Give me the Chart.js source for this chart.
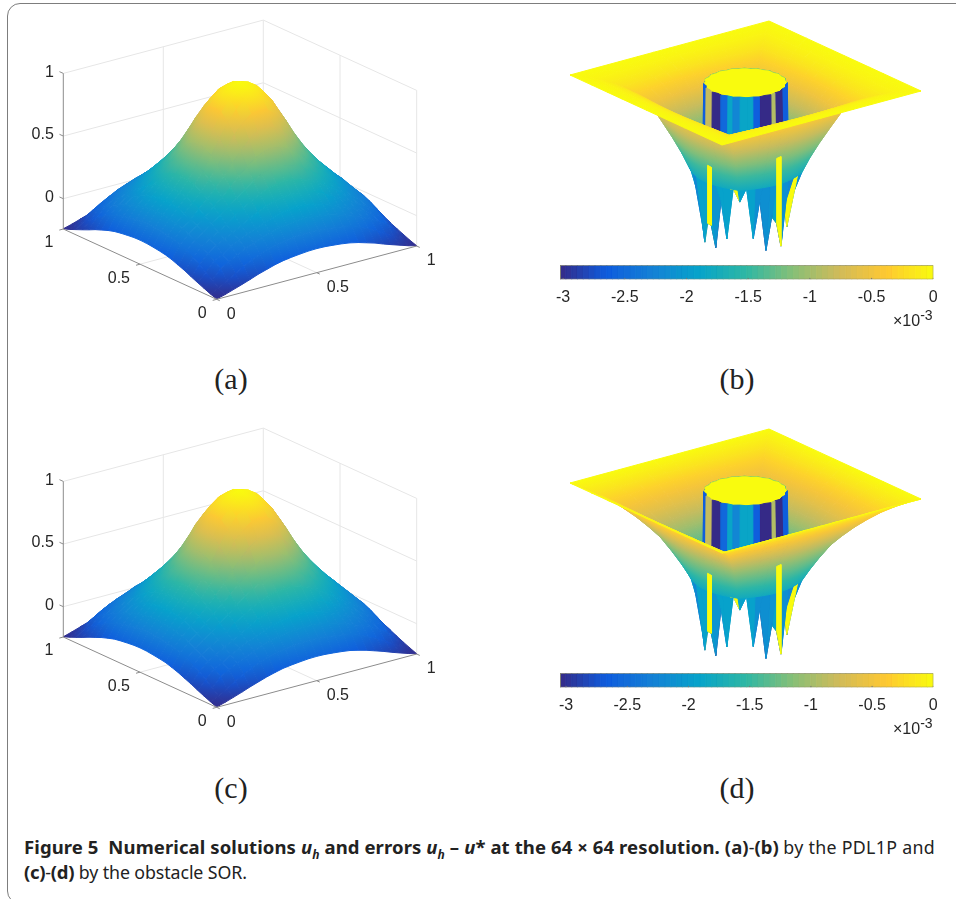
<!DOCTYPE html>
<html>
<head>
<meta charset="utf-8">
<title>Figure 5</title>
<script src="https://cdn.jsdelivr.net/npm/chart.js@4"></script>
<style>
html, body { margin: 0; padding: 0; background: #fff; }
#page { position: relative; width: 956px; height: 899px; overflow: hidden; }
#frame { position: absolute; left: 7px; top: 3px; width: 1000px; height: 899px; border: 1.5px solid #7d7d7d; border-radius: 13px; }
canvas { position: absolute; }
.sub { position: absolute; font: 30px "Liberation Serif", serif; color: #222; transform: translateX(-50%); }
.expo { position: absolute; font: 16px "Liberation Sans", sans-serif; color: #262626; white-space: nowrap; }
.expo sup { font-size: 14px; line-height: 0; }
.cap { position: absolute; left: 24px; font: 17.8px "Noto Sans", sans-serif; color: #222; white-space: nowrap; }
.cap b { font-size: 18.5px; }
.cap i { font-style: italic; }
.cap sub { font-size: 12px; line-height: 0; }
</style>
</head>
<body>
<div id="page">
  <div id="frame"></div>
  <canvas id="panelA" width="478" height="340" style="left:0;top:0"></canvas>
  <canvas id="panelB" width="478" height="262" style="left:478px;top:0"></canvas>
  <canvas id="barB" width="416" height="70" style="left:540px;top:255px"></canvas>
  <canvas id="panelC" width="478" height="340" style="left:0;top:408px"></canvas>
  <canvas id="panelD" width="478" height="262" style="left:478px;top:408px"></canvas>
  <canvas id="barD" width="416" height="70" style="left:540px;top:663px"></canvas>
  <div class="sub" style="left:231px;top:362px">(a)</div>
  <div class="sub" style="left:737px;top:362px">(b)</div>
  <div class="sub" style="left:231px;top:771px">(c)</div>
  <div class="sub" style="left:737px;top:771px">(d)</div>
  <div class="expo" style="left:893px;top:312px">&times;10<sup>-3</sup></div>
  <div class="expo" style="left:893px;top:720px">&times;10<sup>-3</sup></div>
  <div class="cap" style="top:834px"><b style="letter-spacing:.1px">Figure 5&nbsp; Numerical solutions <i>u<sub>h</sub></i> and errors <i>u<sub>h</sub></i> &ndash; <i>u</i>* at the 64 &times; 64 resolution. (a)</b>-<b>(b)</b> <span style="letter-spacing:.3px">by the PDL1P and</span></div>
  <div class="cap" style="top:859px;letter-spacing:-.1px"><b style="letter-spacing:-.3px">(c)</b>-<b style="letter-spacing:-.3px">(d)</b> by the obstacle SOR.</div>
</div>
<script>
// parula colormap
const parula = ['#352a87', '#0f5cdd', '#1481d6', '#06a4ca', '#2eb7a4', '#87bf77', '#d1bb59', '#fec832', '#f9fb0e'];

const axisTicks = [0, 0.5, 1];
const heightTicks = [0, 0.5, 1];
const errorTicks = [-3, -2.5, -2, -1.5, -1, -0.5, 0];

// heights of the solution, by distance from the centre in 1/24 steps
// row a, column b (a >= b), the surface is the same in all four quadrants
const surfaceA = [
  [1.00],
  [.98, .96],
  [.935, .915, .86],
  [.845, .83, .775, .70],
  [.73, .715, .665, .595, .515],
  [.595, .58, .545, .49, .43, .365],
  [.47, .46, .44, .40, .355, .305, .25],
  [.37, .365, .35, .32, .285, .245, .20, .15],
  [.29, .285, .27, .25, .22, .185, .145, .11, .075],
  [.215, .21, .20, .18, .155, .13, .10, .07, .04, -.01],
  [.145, .14, .13, .12, .10, .08, .055, .03, -.005, -.04, -.08],
  [.06, .055, .05, .04, .03, .015, -.01, -.04, -.075, -.115, -.15, -.19],
  [-.05, -.052, -.058, -.065, -.075, -.09, -.11, -.13, -.155, -.178, -.20, -.222, -.24]
];
const surfaceC = [
  [1.00],
  [.98, .96],
  [.935, .915, .865],
  [.85, .83, .78, .71],
  [.735, .72, .67, .60, .52],
  [.60, .585, .55, .495, .435, .37],
  [.475, .465, .445, .405, .36, .31, .255],
  [.375, .37, .355, .325, .29, .25, .205, .155],
  [.29, .285, .275, .25, .225, .19, .15, .11, .075],
  [.215, .21, .20, .185, .16, .13, .10, .07, .035, -.01],
  [.14, .135, .13, .115, .10, .08, .05, .025, -.005, -.04, -.08],
  [.06, .055, .05, .04, .03, .015, -.01, -.04, -.07, -.11, -.15, -.19],
  [-.048, -.05, -.056, -.063, -.072, -.088, -.106, -.128, -.15, -.175, -.198, -.22, -.24]
];

// error surface: rings from the square boundary in to the obstacle
const ringS = [0, .1, .2, .3, .4, .5, .6, .68, .77, .84, .9];
const ringZB = [0, -.02, -.05, -.1, -.18, -.3, -.5, -.8, -1.15, -1.45, -1.75];
const ringZD = [0, -.08, -.18, -.3, -.45, -.62, -.82, -1.0, -1.28, -1.52, -1.75];

// values around the obstacle rim, every 9 degrees
const rimZ = [-1.9, -1.9, -1.9, -1.9, -1.9, -1.9, -1.9, -1.9, -1.9, -1.9, -1.9, -1.9, -1.9, -1.9, -1.9, -2.1,
  -2.5, -2.85, -3.08, -2.66, -2.66, -3.07, -2.1, -2.84, -1.82, -2.08, -1.8, -2.81, -2.06, -3.08,
  -2.44, -2.6, -3.09, -2.32, -2.79, -2.4, -1.9, -1.9, -1.9, -1.9];
const rimShade = [-1.9, -1.9, -1.9, -1.9, -1.9, -1.9, -1.9, -1.9, -1.9, -1.9, -1.9, -1.9, -1.9, -1.9, -1.9, -1.9,
  -2.0, -2.2, -1.9, -1.9, -1.9, -2.05, -1.9, -1.9, 0, -1.9, -1.9, -2.1, -2.1, -2.05,
  -1.9, -2.1, -2.2, 0, -2.1, -2.0, -1.9, -1.9, -1.9, -1.9];
const columnShade = [-1.8, -1.8, -1.8, -1.8, -1.8, -1.8, -1.8, -1.8, -1.8, -1.8, -1.8, -1.8, -1.8, -1.8, -1.8, -2.6,
  -2.6, -2.6, -0.8, -0.8, -3, -3, -2.5, -1.85, -2.2, -1.85, -1.85, -2.6, -3, -3,
  -0.9, -3, -3, -2.6, -2.6, -2.6, -1.8, -1.8, -1.8, -1.8];
const discRadius = [.167, .161, .167, .162, .167, .161, .167, .162, .167, .161, .167, .162, .167, .161, .167, .162, .167, .161, .167, .162,
  .167, .161, .167, .162, .167, .161, .167, .162, .167, .161, .167, .162, .167, .161, .167, .162, .167, .161, .167, .162];
// long yellow faces hanging at the rim
const streakIndex = [19, 31];
const streakTop = [-1.5, -1.3];

const leftView = { ox: 216.7, oy: 269, xx: 200, xy: -53.3, yx: -153.4, yy: -70.3, zs: 125.3, zmin: -.242, zmax: 1 };
const rightView = { ox: 722, oy: 145, xx: 199, xy: -54, yx: -152, yy: -70, zs: 50 };
const rimRadius = 0.172;

function project(v, x, y, z) {
  return { x: v.ox + v.xx * x + v.yx * y, y: v.oy + v.xy * x + v.yy * y - v.zs * z };
}

function parulaAt(t) {
  t = Math.min(1, Math.max(0, t)) * (parula.length - 1);
  const i = Math.min(parula.length - 2, Math.floor(t));
  const f = t - i;
  const c = [1, 3, 5].map(p => {
    const a = parseInt(parula[i].substr(p, 2), 16);
    const b = parseInt(parula[i + 1].substr(p, 2), 16);
    return Math.round(a + (b - a) * f);
  });
  return `rgb(${c[0]},${c[1]},${c[2]})`;
}

// one filled quad, shaded along the plane that fits its four corners
function quad(pts, zs, range) {
  const tone = z => parulaAt((z - range[0]) / (range[1] - range[0]));
  const zlo = Math.min(...zs), zhi = Math.max(...zs);
  const paint = function (context) {
    const chart = context.chart;
    if (!chart.chartArea || zlo === zhi) return tone(zlo);
    const px = pts.map(p => chart.scales.x.getPixelForValue(p.x));
    const py = pts.map(p => chart.scales.y.getPixelForValue(p.y));
    const mean = a => (a[0] + a[1] + a[2] + a[3]) / 4;
    const cx = mean(px), cy = mean(py), cz = mean(zs);
    let sxx = 0, sxy = 0, syy = 0, sxz = 0, syz = 0;
    for (let i = 0; i < 4; i++) {
      const dx = px[i] - cx, dy = py[i] - cy, dz = zs[i] - cz;
      sxx += dx * dx; sxy += dx * dy; syy += dy * dy; sxz += dx * dz; syz += dy * dz;
    }
    const det = sxx * syy - sxy * sxy;
    if (Math.abs(det) < 1e-6) return tone(cz);
    const a = (sxz * syy - syz * sxy) / det;
    const b = (syz * sxx - sxz * sxy) / det;
    const len = a * a + b * b;
    if (len < 1e-12) return tone(cz);
    const g = chart.ctx.createLinearGradient(
      cx + a * (zlo - cz) / len, cy + b * (zlo - cz) / len,
      cx + a * (zhi - cz) / len, cy + b * (zhi - cz) / len);
    g.addColorStop(0, tone(zlo));
    g.addColorStop(1, tone(zhi));
    return g;
  };
  return {
    data: pts.concat([pts[0]]), showLine: true, fill: 'shape', pointRadius: 0, tension: 0,
    backgroundColor: paint, borderColor: paint, borderWidth: 1
  };
}

function polyline(pts, color, width) {
  return { data: pts, showLine: true, fill: false, pointRadius: 0, tension: 0, borderColor: color, borderWidth: width };
}

function baseOptions(xmin, xmax, ymax) {
  return {
    responsive: false,
    animation: false,
    events: [],
    layout: { padding: 0 },
    plugins: { legend: { display: false }, tooltip: { enabled: false } },
    scales: {
      x: { type: 'linear', display: false, min: xmin, max: xmax },
      y: { type: 'linear', display: false, min: 0, max: ymax, reverse: true }
    }
  };
}

// the 3d tick labels are drawn with the chart
const boxLabels = {
  id: 'boxLabels',
  afterDatasetsDraw(chart) {
    const { ctx, scales } = chart;
    const v = leftView;
    const put = (p, dx, dy, align, text) => {
      ctx.textAlign = align;
      ctx.fillText(text, scales.x.getPixelForValue(p.x) + dx, scales.y.getPixelForValue(p.y) + dy);
    };
    ctx.save();
    ctx.font = '16px "Liberation Sans", sans-serif';
    ctx.fillStyle = '#262626';
    ctx.textBaseline = 'middle';
    heightTicks.forEach(t => put(project(v, 0, 1, t), -9.5, -1, 'right', String(t)));
    axisTicks.forEach(t => put(project(v, t, 0, v.zmin), 10, 15, 'left', String(t)));
    axisTicks.forEach(t => put(project(v, 0, t, v.zmin), -10, 14, 'right', String(t)));
    ctx.restore();
  }
};

function solutionPanel(id, table) {
  const v = leftView, bottom = v.zmin, top = v.zmax;
  const wall = '#e6e6e6', axis = '#8c8c8c';
  const P = (x, y, z) => project(v, x, y, z);
  const sets = [];
  // box behind the surface
  heightTicks.forEach(z => sets.push(polyline([P(0, 1, z), P(1, 1, z), P(1, 0, z)], wall, 1)));
  [.5, 1].forEach(x => sets.push(polyline([P(x, 1, bottom), P(x, 1, top)], wall, 1)));
  [.5, 0].forEach(y => sets.push(polyline([P(1, y, bottom), P(1, y, top)], wall, 1)));
  sets.push(polyline([P(0, 1, bottom), P(1, 1, bottom), P(1, 0, bottom)], wall, 1));
  sets.push(polyline([P(.5, 0, bottom), P(.5, 1, bottom)], wall, 1));
  sets.push(polyline([P(0, .5, bottom), P(1, .5, bottom)], wall, 1));
  // surface, far corner first
  const zAt = (i, j) => {
    const a = Math.abs(12 - i), b = Math.abs(12 - j);
    return table[Math.max(a, b)][Math.min(a, b)];
  };
  for (let i = 23; i >= 0; i--) {
    for (let j = 23; j >= 0; j--) {
      const ids = [[i, j], [i + 1, j], [i + 1, j + 1], [i, j + 1]];
      const zs = ids.map(c => zAt(c[0], c[1]));
      const pts = ids.map((c, n) => P(c[0] / 24, c[1] / 24, zs[n]));
      sets.push(quad(pts, zs, [-.25, 1]));
    }
  }
  // axes in front
  sets.push(polyline([P(0, 1, bottom), P(0, 1, top)], axis, 1));
  sets.push(polyline([P(1, 0, bottom), P(0, 0, bottom), P(0, 1, bottom)], axis, 1));
  heightTicks.forEach(z => sets.push(polyline([P(0, 1, z), P(0, 1.025, z)], axis, 1)));
  axisTicks.forEach(t => {
    sets.push(polyline([P(t, 0, bottom), P(t, -.02, bottom)], axis, 1));
    sets.push(polyline([P(0, t, bottom), P(-.02, t, bottom)], axis, 1));
  });
  new Chart(document.getElementById(id), {
    type: 'scatter',
    data: { datasets: sets.reverse() },
    options: baseOptions(0, 478, 340),
    plugins: [boxLabels]
  });
}

function errorPanel(id, ringZ, clim) {
  const v = rightView;
  const N = rimZ.length;
  const P = (rho, k, z) => {
    const th = k * 9 * Math.PI / 180;
    return project(v, .5 + rho * Math.cos(th), .5 + rho * Math.sin(th), z);
  };
  const squareRho = k => {
    const th = k * 9 * Math.PI / 180;
    return .5 / Math.max(Math.abs(Math.cos(th)), Math.abs(Math.sin(th)));
  };
  const ringRho = (s, k) => (1 - s) * squareRho(k) + s * rimRadius;
  const cells = [];
  const add = (corners, zs, flat, front) => {
    const ground = corners.map((c, n) => c.y + v.zs * zs[n]);
    const depth = front ? 9999 : ground.reduce((a, b) => a + b, 0) / 4;
    const shown = flat === undefined ? zs : [flat, flat, flat, flat];
    cells.push({ depth, set: quad(corners, shown, clim) });
  };
  for (let k = 0; k < N; k++) {
    const n = (k + 1) % N;
    for (let r = 0; r < ringS.length - 1; r++) {
      const zs = [ringZ[r], ringZ[r], ringZ[r + 1], ringZ[r + 1]];
      const pts = [P(ringRho(ringS[r], k), k, zs[0]), P(ringRho(ringS[r], n), n, zs[1]),
        P(ringRho(ringS[r + 1], n), n, zs[2]), P(ringRho(ringS[r + 1], k), k, zs[3])];
      add(pts, zs);
    }
    // last strip down to the rim values, gives the spikes
    const last = ringS.length - 1;
    const zl = [ringZ[last], ringZ[last], rimZ[n], rimZ[k]];
    add([P(ringRho(ringS[last], k), k, zl[0]), P(ringRho(ringS[last], n), n, zl[1]),
      P(rimRadius, n, zl[2]), P(rimRadius, k, zl[3])], zl, rimShade[k]);
    // side of the obstacle
    const zc = [rimZ[k], rimZ[n], 0, 0];
    add([P(rimRadius, k, zc[0]), P(rimRadius, n, zc[1]), P(discRadius[n], n, 0), P(discRadius[k], k, 0)], zc, columnShade[k]);
  }
  streakIndex.forEach((k, i) => {
    const n = k + 1, t = streakTop[i];
    const zs = [t, t, rimZ[n], rimZ[k]];
    add([P(rimRadius, k, t), P(rimRadius, n, t), P(rimRadius, n, rimZ[n]), P(rimRadius, k, rimZ[k])], zs, 0, true);
  });
  // flat top of the obstacle
  const rim = discRadius.map((r, k) => P(r, k, 0));
  cells.push({
    depth: project(v, .5, .5, 0).y,
    set: { data: rim.concat([rim[0]]), showLine: true, fill: 'shape', pointRadius: 0, tension: 0,
      backgroundColor: parula[8], borderColor: parula[8], borderWidth: 0.7 }
  });
  cells.sort((a, b) => a.depth - b.depth);
  new Chart(document.getElementById(id), {
    type: 'scatter',
    data: { datasets: cells.map(c => c.set).reverse() },
    options: baseOptions(478, 956, 262)
  });
}

function colorBar(id, low) {
  const sets = [];
  const edge = [];
  for (let i = 0; i < 64; i++) edge.push(low - low * i / 64);
  edge.push(0);
  for (let i = 0; i < 64; i++) {
    const c = parulaAt((i + .5) / 64);
    sets.push({
      data: [{ x: edge[i], y: 0 }, { x: edge[i + 1], y: 0 }, { x: edge[i + 1], y: 1 }, { x: edge[i], y: 1 }, { x: edge[i], y: 0 }],
      showLine: true, fill: 'shape', pointRadius: 0, tension: 0, backgroundColor: c, borderColor: c, borderWidth: 0.6
    });
  }
  sets.push(polyline([{ x: low, y: 0 }, { x: 0, y: 0 }, { x: 0, y: 1 }, { x: low, y: 1 }, { x: low, y: 0 }], '#8a8a70', 1));
  errorTicks.forEach(t => sets.push(polyline([{ x: t, y: 0 }, { x: t, y: .1 }], '#777', 1)));
  new Chart(document.getElementById(id), {
    type: 'scatter',
    data: { datasets: sets.reverse() },
    options: {
      responsive: false,
      animation: false,
      events: [],
      layout: { padding: { left: 20, right: 22.7, top: 10.3, bottom: 0 } },
      plugins: { legend: { display: false }, tooltip: { enabled: false } },
      scales: {
        x: {
          type: 'linear', min: low, max: 0,
          grid: { display: false }, border: { display: false },
          afterFit: s => { s.height = 45.7; },
          ticks: {
            stepSize: 0.5, includeBounds: false, autoSkip: false, maxRotation: 0, padding: 1,
            color: '#262626', font: { family: 'Liberation Sans', size: 16 },
            callback: value => String(value)
          }
        },
        y: { type: 'linear', display: false, min: 0, max: 1 }
      }
    }
  });
}

solutionPanel('panelA', surfaceA);
solutionPanel('panelC', surfaceC);
errorPanel('panelB', ringZB, [-3, 0]);
errorPanel('panelD', ringZD, [-3, 0]);
colorBar('barB', -3.025);
colorBar('barD', -3.05);
</script>
</body>
</html>
